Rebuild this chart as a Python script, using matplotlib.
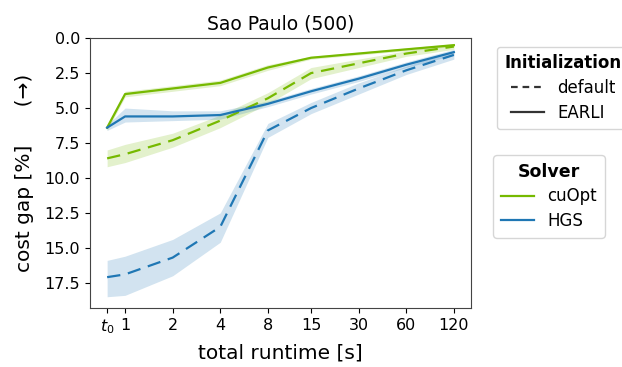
import numpy as np
import matplotlib
matplotlib.use('Agg')
import matplotlib.pyplot as plt
from matplotlib.lines import Line2D

# runtimes (t0 is the initial solution time, plotted on a log2 axis)
runtimes = [0.77, 1, 2, 4, 8, 15, 30, 60, 120]
tick_labels = ['$t_0$', '1', '2', '4', '8', '15', '30', '60', '120']

# cost gap [%] means and band limits
cuopt_earli = [6.4, 4.0, 3.6, 3.2, 2.1, 1.4, 1.1, 0.8, 0.5]
cuopt_earli_lo = [6.2, 3.8, 3.4, 3.0, 1.9, 1.3, 1.0, 0.7, 0.4]
cuopt_earli_hi = [6.6, 4.2, 3.8, 3.4, 2.3, 1.5, 1.2, 0.9, 0.6]

cuopt_default = [8.6, 8.3, 7.3, 5.9, 4.3, 2.5, 1.8, 1.1, 0.6]
cuopt_default_lo = [8.0, 7.6, 6.8, 5.5, 3.9, 2.1, 1.5, 0.9, 0.4]
cuopt_default_hi = [9.2, 8.9, 7.8, 6.4, 4.7, 2.9, 2.1, 1.3, 0.8]

hgs_earli = [6.4, 5.6, 5.6, 5.5, 4.7, 3.8, 2.9, 1.9, 1.0]
hgs_earli_lo = [6.2, 5.0, 5.2, 5.2, 4.5, 3.6, 2.7, 1.7, 0.8]
hgs_earli_hi = [6.6, 6.0, 5.9, 5.8, 4.9, 4.0, 3.1, 2.1, 1.2]

hgs_default = [17.1, 16.9, 15.7, 13.5, 6.6, 5.0, 3.6, 2.3, 1.2]
hgs_default_lo = [15.9, 15.6, 14.4, 12.5, 6.1, 4.6, 3.2, 2.0, 0.9]
hgs_default_hi = [18.5, 18.4, 17.0, 14.6, 7.1, 5.4, 4.0, 2.6, 1.5]

green = '#76b900'
blue = '#1f77b4'
dash = (6, 3.5)

fig = plt.figure(figsize=(6.22, 3.67), dpi=100)
ax = fig.add_axes([0.1447, 0.161, 0.6125, 0.735])

series = [
    (cuopt_earli, cuopt_earli_lo, cuopt_earli_hi, green, '-'),
    (cuopt_default, cuopt_default_lo, cuopt_default_hi, green, '--'),
    (hgs_earli, hgs_earli_lo, hgs_earli_hi, blue, '-'),
    (hgs_default, hgs_default_lo, hgs_default_hi, blue, '--'),
]
for mean, lo, hi, color, ls in series:
    ax.fill_between(runtimes, lo, hi, color=color, alpha=0.2, linewidth=0)
    line, = ax.plot(runtimes, mean, color=color, linestyle=ls, linewidth=1.6)
    if ls == '--':
        line.set_dashes(dash)

ax.set_xscale('log', base=2)
ax.set_xticks(runtimes)
ax.set_xticklabels(tick_labels)
ax.minorticks_off()
ax.set_xlim(0.60, 154)
ax.set_ylim(19.3, 0)
ax.set_yticks([0, 2.5, 5, 7.5, 10, 12.5, 15, 17.5])
ax.tick_params(labelsize=11.5)
for s in ax.spines.values():
    s.set_color('#444444')

ax.set_title('Sao Paulo (500)', fontsize=13.5)
ax.set_xlabel('total runtime [s]', fontsize=14.5, labelpad=5)
ax.set_ylabel('cost gap [%]      (→)', fontsize=14.5, labelpad=8)

init_handles = [Line2D([], [], color='#333333', linestyle='--', dashes=(3, 2.2), linewidth=1.6),
                Line2D([], [], color='#333333', linestyle='-', linewidth=1.6)]
leg1 = fig.legend(init_handles, ['default', 'EARLI'], title='Initialization',
                  loc='upper left', bbox_to_anchor=(0.799, 0.872), fontsize=12,
                  title_fontproperties={'weight': 'bold', 'size': 12},
                  borderaxespad=0, labelspacing=0.4, borderpad=0.45)
solver_handles = [Line2D([], [], color=green, linewidth=1.6),
                  Line2D([], [], color=blue, linewidth=1.6)]
leg2 = fig.legend(solver_handles, ['cuOpt', 'HGS'], title='Solver',
                  loc='upper left', bbox_to_anchor=(0.793, 0.577), fontsize=12,
                  title_fontproperties={'weight': 'bold', 'size': 12.5},
                  borderaxespad=0, labelspacing=0.4, borderpad=0.45)

fig.savefig('out.png', dpi=100)
